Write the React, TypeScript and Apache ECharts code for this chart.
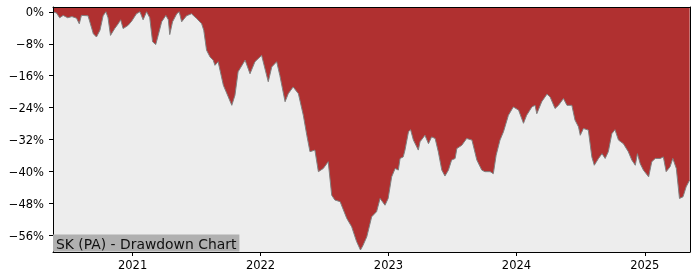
import React, { useEffect, useRef } from "react";
import * as echarts from "echarts";

const dates: string[] = [
  "2020-05-19", "2020-05-21", "2020-05-29", "2020-06-07", "2020-06-17", "2020-06-30", "2020-07-12", "2020-07-25",
  "2020-08-02", "2020-08-08", "2020-08-27", "2020-09-11", "2020-09-20", "2020-09-30", "2020-10-09", "2020-10-17",
  "2020-10-23", "2020-10-30", "2020-11-11", "2020-11-21", "2020-11-28", "2020-12-05", "2020-12-19", "2020-12-29",
  "2021-01-12", "2021-01-22", "2021-01-31", "2021-02-10", "2021-02-19", "2021-02-27", "2021-03-08", "2021-03-15",
  "2021-03-25", "2021-04-06", "2021-04-13", "2021-04-17", "2021-04-25", "2021-05-07", "2021-05-14", "2021-05-21",
  "2021-06-04", "2021-06-18", "2021-07-03", "2021-07-17", "2021-07-23", "2021-07-31", "2021-08-10", "2021-08-19",
  "2021-08-24", "2021-09-02", "2021-09-17", "2021-10-01", "2021-10-11", "2021-10-20", "2021-10-29", "2021-11-18",
  "2021-12-02", "2021-12-16", "2022-01-04", "2022-01-23", "2022-02-02", "2022-02-16", "2022-02-25", "2022-03-12",
  "2022-03-21", "2022-04-04", "2022-04-19", "2022-05-03", "2022-05-13", "2022-05-22", "2022-06-05", "2022-06-15",
  "2022-06-29", "2022-07-13", "2022-07-23", "2022-08-01", "2022-08-16", "2022-09-04", "2022-09-18", "2022-10-02",
  "2022-10-13", "2022-10-20", "2022-10-31", "2022-11-14", "2022-11-28", "2022-12-08", "2022-12-22", "2022-12-31",
  "2023-01-10", "2023-01-20", "2023-01-29", "2023-02-03", "2023-02-12", "2023-02-17", "2023-02-27", "2023-03-05",
  "2023-03-13", "2023-03-27", "2023-04-01", "2023-04-15", "2023-04-25", "2023-05-04", "2023-05-14", "2023-05-23",
  "2023-06-02", "2023-06-11", "2023-06-21", "2023-06-30", "2023-07-10", "2023-07-15", "2023-07-29", "2023-08-12",
  "2023-08-27", "2023-09-10", "2023-09-24", "2023-10-03", "2023-10-18", "2023-10-27", "2023-11-04", "2023-11-15",
  "2023-11-25", "2023-12-09", "2023-12-23", "2024-01-07", "2024-01-21", "2024-01-30", "2024-02-14", "2024-02-23",
  "2024-02-28", "2024-03-13", "2024-03-28", "2024-04-06", "2024-04-20", "2024-04-30", "2024-05-14", "2024-05-24",
  "2024-06-07", "2024-06-16", "2024-06-26", "2024-07-01", "2024-07-10", "2024-07-24", "2024-08-03", "2024-08-10",
  "2024-08-22", "2024-09-01", "2024-09-10", "2024-09-19", "2024-09-29", "2024-10-08", "2024-10-18", "2024-11-01",
  "2024-11-15", "2024-11-25", "2024-12-05", "2024-12-11", "2024-12-19", "2024-12-28", "2025-01-12", "2025-01-21",
  "2025-01-31", "2025-02-14", "2025-02-23", "2025-03-03", "2025-03-14", "2025-03-22", "2025-04-01", "2025-04-10",
  "2025-04-20", "2025-04-29", "2025-05-09",
];

const drawdown: number[] = [
  0, 0, -0.3, -1.5, -0.9, -1.5, -1.2, -1.6,
  -3.0, -0.9, -1.0, -5.5, -6.3, -4.6, -1.0, 0,
  -1.5, -5.9, -4.2, -3.0, -2.0, -4.2, -3.4, -2.4,
  -0.5, 0, -2.0, 0, -1.5, -7.5, -8.2, -5.9,
  -2.5, -0.9, -2.0, -5.7, -2.5, -0.5, 0, -2.5,
  -1.0, -0.5, -1.7, -3.0, -4.6, -9.6, -11.3, -12.1,
  -13.4, -12.5, -18.4, -21.3, -23.4, -20.9, -15.0, -12.1,
  -15.5, -12.5, -10.9, -17.5, -13.8, -12.5, -15.9, -22.5,
  -20.5, -18.8, -20.5, -25.9, -30.9, -35.0, -34.6, -40.0,
  -39.2, -37.5, -45.9, -47.1, -47.5, -51.7, -53.8, -57.5,
  -59.6, -58.5, -56.3, -51.3, -50.0, -46.7, -48.4, -46.7,
  -41.3, -39.2, -39.6, -36.7, -36.3, -34.6, -30.0, -29.5,
  -32.1, -34.6, -32.5, -30.9, -33.0, -31.3, -31.7, -35.0,
  -39.6, -41.1, -39.6, -37.1, -36.7, -34.2, -33.4, -31.7,
  -32.1, -37.1, -39.6, -40.0, -40.0, -40.5, -35.9, -32.1,
  -30.0, -25.9, -23.8, -24.6, -27.9, -25.9, -23.8, -23.4,
  -25.5, -22.5, -20.6, -21.3, -24.2, -23.4, -21.7, -23.4,
  -23.4, -27.1, -28.8, -30.9, -29.2, -29.6, -36.3, -38.4,
  -36.7, -35.5, -36.7, -35.0, -30.5, -29.5, -32.1, -33.0,
  -35.0, -37.1, -38.4, -35.5, -38.0, -39.6, -41.3, -37.5,
  -36.7, -36.7, -36.3, -40.0, -38.8, -36.7, -39.2, -46.7,
  -46.3, -43.8, -42.1,
];

const yTicks: number[] = [0, -8, -16, -24, -32, -40, -48, -56];
const xTickYears: number[] = [2021, 2022, 2023, 2024, 2025];
const chartTitle = "SK (PA) - Drawdown Chart";

function toTs(s: string): number {
  const [y, m, d] = s.split("-").map(Number);
  return Date.UTC(y, m - 1, d);
}

export default function App() {
  const ref = useRef<HTMLDivElement>(null);

  useEffect(() => {
    if (!ref.current) return;
    const chart = echarts.init(ref.current, undefined, { renderer: "svg" });
    const xTickValues = xTickYears.map((y) => Date.UTC(y, 0, 1));
    const font = "'DejaVu Sans', sans-serif";
    const xMin = toTs("2020-05-19");
    const xMax = toTs("2025-05-10");
    const yMin = -60.1;
    const yMax = 1.2;
    const spine = { show: true, onZero: false, lineStyle: { color: "#000", width: 1 } };
    chart.setOption({
      animation: false,
      title: {
        text: chartTitle,
        left: 53,
        bottom: 28.5,
        backgroundColor: "#b0b0b0",
        padding: [2, 3, 1, 3],
        textStyle: {
          fontFamily: font,
          fontSize: 13.9,
          fontWeight: "normal",
          color: "#111",
        },
        z: 10,
      },
      grid: {
        left: 53,
        right: 10,
        top: 7,
        bottom: 28,
        show: true,
        backgroundColor: "#ededed",
        borderWidth: 0,
        containLabel: false,
      },
      xAxis: [
        {
          type: "value",
          min: xMin,
          max: xMax,
          z: 5,
          axisLine: spine,
          axisTick: {
            show: true,
            length: 4,
            lineStyle: { color: "#000" },
            customValues: xTickValues,
          },
          axisLabel: {
            customValues: xTickValues,
            formatter: (v: number) => String(new Date(v).getUTCFullYear()),
            fontFamily: font,
            fontSize: 11.5,
            color: "#000",
            margin: 7,
          },
          splitLine: { show: false },
        },
        {
          type: "value",
          position: "top",
          min: xMin,
          max: xMax,
          z: 5,
          axisLine: spine,
          axisTick: { show: false },
          axisLabel: { show: false },
          splitLine: { show: false },
        },
      ],
      yAxis: [
        {
          type: "value",
          min: yMin,
          max: yMax,
          z: 5,
          axisLine: spine,
          axisTick: {
            show: true,
            length: 4,
            lineStyle: { color: "#000" },
            customValues: yTicks,
          },
          axisLabel: {
            customValues: yTicks,
            formatter: (v: number) =>
              v === 0 ? "0%" : "\u2212" + Math.abs(Math.round(v)) + "%",
            fontFamily: font,
            fontSize: 11.5,
            color: "#000",
            margin: 9,
          },
          splitLine: { show: false },
        },
        {
          type: "value",
          position: "right",
          min: yMin,
          max: yMax,
          z: 5,
          axisLine: spine,
          axisTick: { show: false },
          axisLabel: { show: false },
          splitLine: { show: false },
        },
      ],
      series: [
        {
          type: "line",
          xAxisIndex: 0,
          yAxisIndex: 0,
          data: dates.map((d, i) => [toTs(d), drawdown[i]]),
          showSymbol: false,
          symbol: "none",
          lineStyle: { color: "#808080", width: 1 },
          areaStyle: { color: "#b03030", opacity: 1, origin: "end" },
          z: 2,
        },
      ],
    });
    return () => chart.dispose();
  }, []);

  return (
    <div
      ref={ref}
      style={{ position: "fixed", left: 0, top: 0, width: 700, height: 280 }}
    />
  );
}
